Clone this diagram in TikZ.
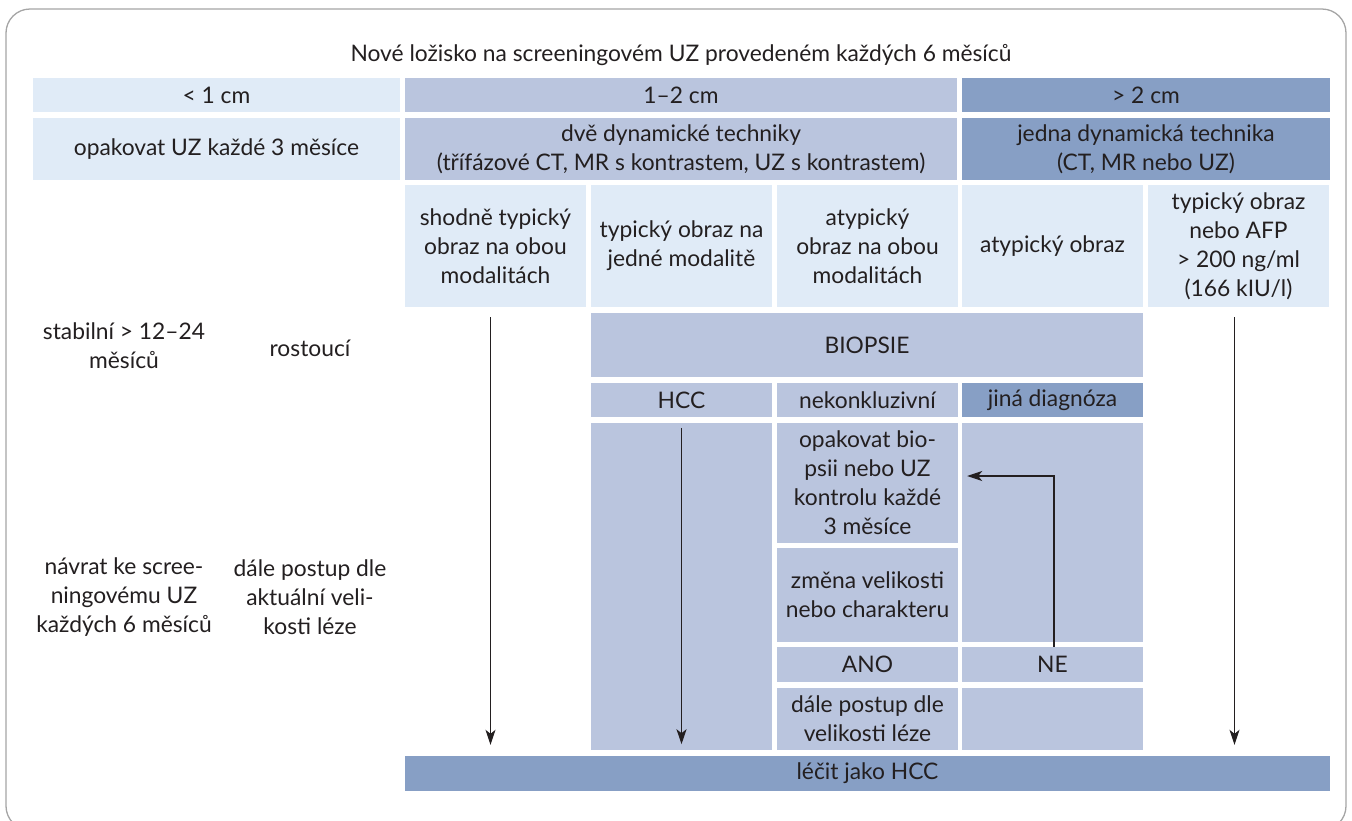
\documentclass[tikz,border=0pt]{standalone}
\usepackage{fontspec}
\setmainfont{Lato}
\usetikzlibrary{positioning,arrows.meta}

\definecolor{boxlight}{RGB}{224,235,247}
\definecolor{boxmid}{RGB}{186,197,222}
\definecolor{boxdark}{RGB}{135,159,197}
\definecolor{txtgray}{RGB}{35,31,32}
\definecolor{framegray}{RGB}{165,165,165}

\tikzset{
  cell/.style={inner sep=0pt, align=center, text=txtgray,
    font=\fontsize{22.8}{29}\selectfont},
  lightcell/.style={cell, fill=boxlight},
  midcell/.style={cell, fill=boxmid},
  darkcell/.style={cell, fill=boxdark},
  colcell/.style={minimum width=181pt},
  flow/.style={draw=txtgray, line width=1.2pt, -{Stealth[length=15pt,width=10pt,inset=4pt]}},
}

\begin{document}
\begin{tikzpicture}[x=1pt,y=-1pt]
  \useasboundingbox (0,0) rectangle (1352,820);
  \draw[framegray, line width=1.3pt, rounded corners=24pt] (6,9) rectangle (1346,830);

  \node[cell] (title) at (681,55) {Nové ložisko na screeningovém UZ provedeném každých 6 měsíců};

  % velikost loziska
  \node[lightcell, minimum width=367pt, minimum height=34pt] (small) at (216.5,95) {< 1 cm};
  \node[midcell, minimum width=552pt, minimum height=34pt] (medium) at (681,95) {1–2 cm};
  \node[darkcell, minimum width=368pt, minimum height=34pt] (large) at (1146,95) {> 2 cm};

  % vysetreni
  \node[lightcell, minimum width=367pt, minimum height=62pt] (repuz) at (216.5,149) {opakovat UZ každé 3 měsíce};
  \node[midcell, minimum width=552pt, minimum height=62pt] (twotech) at (681,149) {dvě dynamické techniky\\(třífázové CT, MR s kontrastem, UZ s kontrastem)};
  \node[darkcell, minimum width=368pt, minimum height=62pt] (onetech) at (1146,149) {jedna dynamická technika\\(CT, MR nebo UZ)};

  % nalez
  \node[lightcell, colcell, minimum height=122pt] (bothtyp) at (495.5,246) {shodně typický\\obraz na obou\\modalitách};
  \node[lightcell, colcell, minimum height=122pt] (onetyp) at (681.5,246) {typický obraz na\\jedné modalitě};
  \node[lightcell, colcell, minimum height=122pt] (bothatyp) at (867.5,246) {atypický\\obraz na obou\\modalitách};
  \node[lightcell, colcell, minimum height=122pt] (atyp) at (1052.5,246) {atypický obraz};
  \node[lightcell, colcell, minimum height=122pt] (typafp) at (1238.5,246) {typický obraz\\nebo AFP\\> 200 ng/ml\\(166 kIU/l)};

  % levy sloupec
  \node[cell] (stable) at (124,346) {stabilní > 12–24\\měsíců};
  \node[cell] (growing) at (310,348) {rostoucí};
  \node[cell] (back) at (124,597) {návrat ke scree-\\ningovému UZ\\každých 6 měsíců};
  \node[cell] (further) at (310,597) {dále postup dle\\aktuální veli-\\kosti léze};

  % biopsie
  \node[midcell, minimum width=552pt, minimum height=64pt] (biopsy) at (867,345) {BIOPSIE};
  \node[midcell, colcell, minimum height=34pt] (hcc) at (681.5,400) {HCC};
  \node[midcell, colcell, minimum height=34pt] (inconcl) at (867.5,400) {nekonkluzivní};
  \node[darkcell, colcell, minimum height=34pt] (otherdg) at (1052.5,400) {jiná diagnóza};

  \node[midcell, colcell, minimum height=327pt] (hcccol) at (681.5,586.5) {};
  \node[midcell, colcell, minimum height=120pt] (repbiop) at (867.5,483) {opakovat bio-\\psii nebo UZ\\kontrolu každé\\3 měsíce};
  \node[midcell, colcell, minimum height=219pt] (otherfill) at (1052.5,532.5) {};
  \node[midcell, colcell, minimum height=94pt] (change) at (867.5,595) {změna velikosti\\nebo charakteru};
  \node[midcell, colcell, minimum height=35pt] (yes) at (867.5,664.5) {ANO};
  \node[midcell, colcell, minimum height=35pt] (no) at (1052.5,664.5) {NE};
  \node[midcell, colcell, minimum height=62pt] (nextstep) at (867.5,719) {dále postup dle\\velikosti léze};
  \node[midcell, colcell, minimum height=62pt] (blank) at (1052.5,719) {};

  \node[darkcell, minimum width=925pt, minimum height=35pt] (treat) at (867.5,773.5) {léčit jako HCC};

  % sipky
  \draw[flow, shorten <=10pt, shorten >=11pt] ([xshift=-5pt]bothtyp.south) -- ([xshift=-5pt]bothtyp.south |- treat.north);
  \draw[flow, shorten <=5pt, shorten >=6pt] (hcccol.north) -- (hcccol.south);
  \draw[flow, shorten <=10pt, shorten >=11pt] ([xshift=-4pt]typafp.south) -- ([xshift=-4pt]typafp.south |- treat.north);
  \draw[flow, shorten >=9pt] ([xshift=1.5pt]no.north) |- ([yshift=7pt]repbiop.east);
\end{tikzpicture}
\end{document}
